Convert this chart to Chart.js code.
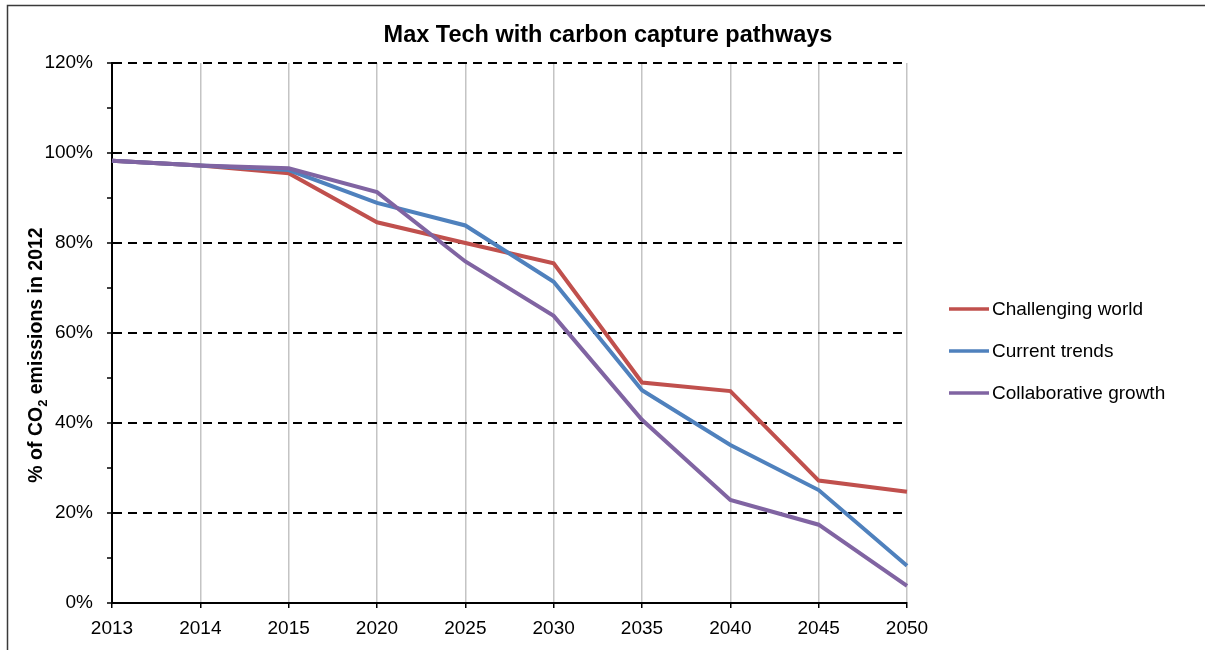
<!DOCTYPE html>
<html>
<head>
<meta charset="utf-8">
<script src="https://cdn.jsdelivr.net/npm/chart.js"></script>
<style>
	html, body { margin: 0; padding: 0; background: #fff; }
	#wrap { position: absolute; left: 0; top: 0; width: 1205px; height: 650px; }
</style>
</head>
<body>
<div id="wrap"><canvas id="pathChart" width="1205" height="650"></canvas></div>
<script>
const years = ['2013','2014','2015','2020','2025','2030','2035','2040','2045','2050'];
const challengingWorld = [98.3, 97.2, 95.5, 84.6, 80.0, 75.5, 49.0, 47.1, 27.2, 24.7];
const currentTrends = [98.3, 97.2, 96.2, 88.9, 83.9, 71.4, 47.3, 35.1, 25.1, 8.3];
const collaborativeGrowth = [98.3, 97.2, 96.6, 91.3, 75.9, 63.8, 40.7, 22.9, 17.4, 3.8];
const seriesNames = ['Challenging world', 'Current trends', 'Collaborative growth'];
const seriesColors = ['#c0504d', '#4f81bd', '#8064a2'];
const yTicks = { min: 0, max: 120, step: 10, labelEvery: 20 };

const FONT = "'Liberation Sans', Arial, sans-serif";

// title, y title, legend and outer frame
const decorations = {
	id: 'decorations',
	afterDraw(chart){
		const ctx = chart.ctx;
		const area = chart.chartArea;
		ctx.save();

		ctx.strokeStyle = '#3a3a3a';
		ctx.lineWidth = 1.5;
		ctx.strokeRect(7.5, 5.5, 1210, 700);

		ctx.fillStyle = '#000';
		ctx.font = 'bold 23.5px ' + FONT;
		ctx.textAlign = 'center';
		ctx.textBaseline = 'alphabetic';
		ctx.fillText('Max Tech with carbon capture pathways', 608, 42);

		// y axis title with subscript
		ctx.translate(42, 355);
		ctx.rotate(-Math.PI / 2);
		const p1 = '% of CO', p2 = '2', p3 = ' emissions in 2012';
		ctx.font = 'bold 19.5px ' + FONT;
		const w1 = ctx.measureText(p1).width, w3 = ctx.measureText(p3).width;
		ctx.font = 'bold 13px ' + FONT;
		const w2 = ctx.measureText(p2).width;
		let x = -(w1 + w2 + w3) / 2;
		ctx.textAlign = 'left';
		ctx.font = 'bold 19.5px ' + FONT;
		ctx.fillText(p1, x, 0); x += w1;
		ctx.font = 'bold 13px ' + FONT;
		ctx.fillText(p2, x, 5); x += w2;
		ctx.font = 'bold 19.5px ' + FONT;
		ctx.fillText(p3, x, 0);
		ctx.setTransform(1, 0, 0, 1, 0, 0);

		// legend
		ctx.font = '19px ' + FONT;
		ctx.textBaseline = 'middle';
		ctx.textAlign = 'left';
		chart.data.datasets.forEach((ds, i) => {
			const ly = 309 + i * 42;
			ctx.strokeStyle = ds.borderColor;
			ctx.lineWidth = 3.5;
			ctx.beginPath();
			ctx.moveTo(area.right + 42, ly);
			ctx.lineTo(area.right + 82, ly);
			ctx.stroke();
			ctx.fillStyle = '#000';
			ctx.fillText(ds.label, area.right + 85, ly + 1);
		});
		ctx.restore();
	}
};

new Chart(document.getElementById('pathChart').getContext('2d'), {
	type: 'line',
	data: {
		labels: years,
		datasets: [
			{ label: seriesNames[0], data: challengingWorld, borderColor: seriesColors[0], backgroundColor: seriesColors[0], order: 2 },
			{ label: seriesNames[1], data: currentTrends, borderColor: seriesColors[1], backgroundColor: seriesColors[1], order: 1 },
			{ label: seriesNames[2], data: collaborativeGrowth, borderColor: seriesColors[2], backgroundColor: seriesColors[2], order: 0 }
		]
	},
	options: {
		responsive: false,
		animation: false,
		devicePixelRatio: 1,
		layout: { padding: { left: 0, right: 298, top: 63, bottom: 0 } },
		elements: {
			line: { borderWidth: 4, tension: 0, borderCapStyle: 'butt', borderJoinStyle: 'miter' },
			point: { radius: 0, hoverRadius: 0 }
		},
		plugins: {
			legend: { display: false },
			title: { display: false },
			tooltip: { enabled: false }
		},
		scales: {
			x: {
				offset: false,
				afterFit(s){ s.height = 47; },
				grid: { color: '#c4c4c4', lineWidth: 1.5, tickColor: '#000', tickLength: 5, tickWidth: 1.5 },
				border: { color: '#000', width: 2 },
				ticks: { color: '#000', font: { family: FONT, size: 19 }, padding: 9, maxRotation: 0, autoSkip: false }
			},
			y: {
				min: yTicks.min,
				max: yTicks.max,
				afterFit(s){ s.width = 112; },
				grid: {
					color: c => (c.tick && c.tick.value % yTicks.labelEvery === 0) ? '#000' : 'rgba(0,0,0,0)',
					lineWidth: 2,
					tickColor: '#000',
					tickLength: 5,
					tickWidth: 1.5
				},
				border: { color: '#000', width: 2, dash: [9, 6] },
				ticks: {
					stepSize: yTicks.step,
					color: '#000',
					padding: 14,
					font: { family: FONT, size: 19 },
					callback: v => (v % yTicks.labelEvery === 0) ? v + '%' : ''
				}
			}
		}
	},
	plugins: [decorations]
});
</script>
</body>
</html>
